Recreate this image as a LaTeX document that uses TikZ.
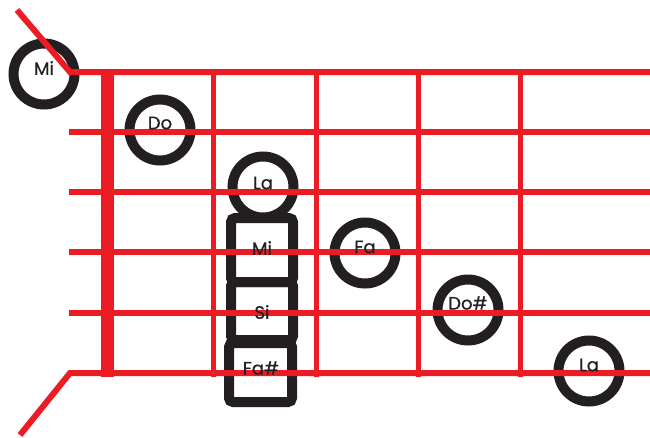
\documentclass[tikz,border=0pt]{standalone}
\usepackage{fontspec}
\newfontfamily\notefont{Poppins}[FakeBold=0.6]
\definecolor{fretred}{HTML}{ED1C24}
\definecolor{inkblack}{HTML}{231F20}
\pgfdeclarelayer{rings}
\pgfdeclarelayer{grid}
\pgfsetlayers{rings,grid,main}
\begin{document}
\begin{tikzpicture}[x=1pt, y=-1pt,
	note/.style={text=inkblack, inner sep=0pt, font=\notefont\fontsize{18}{18}\selectfont},
	ring/.style={draw=inkblack, line width=10pt},
	string/.style={fretred, line width=6pt},
	fret/.style={fretred, line width=5pt}]
	\useasboundingbox (0,0) rectangle (650,437);
	
	% note names
	\node[note] (mi0) at (44, 68) {Mi};
	\node[note] (do1) at (160, 123) {Do};
	\node[note] (la2) at (263, 183) {La};
	\node[note] (mi2) at (262, 248) {Mi};
	\node[note] (si2) at (262, 312) {Si};
	\node[note] (fas2) at (261, 368) {Fa\#};
	\node[note] (fa3) at (365, 247) {Fa};
	\node[note] (dos4) at (468, 303) {Do\#};
	\node[note] (la5) at (589, 365) {La};
	
	% rings and boxes
	\begin{pgfonlayer}{rings}
		\draw[ring] (mi0) ++(0, 6) circle (30.5);
		\draw[ring] (do1) ++(0, 7) circle (30.5);
		\draw[ring] (la2) ++(0, 4) circle (30.5);
		\draw[ring] (fa3) ++(0, 6) circle (30.5);
		\draw[ring] (dos4) ++(0, 7) circle (30.5);
		\draw[ring] (la5) ++(0, 6) circle (30.5);
		\draw[ring, rounded corners=4pt] (231, 218) rectangle (293, 282);
		\draw[ring, rounded corners=4pt] (231, 282) rectangle (293, 340);
		\draw[ring, rounded corners=4pt] (229, 343) rectangle (292, 402);
	\end{pgfonlayer}
	
	% strings, nut and frets
	\begin{pgfonlayer}{grid}
		\draw[string] (17, 10) -- (70, 72) -- (650, 72);
		\draw[string] (69, 132) -- (650, 132);
		\draw[string] (69, 192) -- (650, 192);
		\draw[string] (69, 252) -- (650, 252);
		\draw[string] (69, 313) -- (650, 313);
		\draw[string] (20, 435) -- (70, 373) -- (650, 373);
		\draw[fretred, line width=13pt] (107, 72) -- (107, 377);
		\foreach \x in {213, 316, 418, 520}
			\draw[fret] (\x, 72) -- (\x, 377);
	\end{pgfonlayer}
\end{tikzpicture}
\end{document}
